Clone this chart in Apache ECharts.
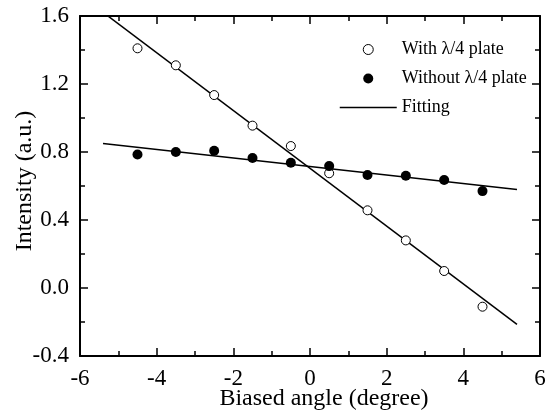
<!DOCTYPE html>
<html>
<head>
<meta charset="utf-8">
<script src="https://cdn.jsdelivr.net/npm/echarts@6/dist/echarts.min.js"></script>
<style>html,body{margin:0;padding:0;background:#fff;}#c{width:547px;height:415px;}</style>
</head>
<body>
<div id="c"></div>
<script>
var angles = [-4.5, -3.5, -2.5, -1.5, -0.5, 0.5, 1.5, 2.5, 3.5, 4.5];
var withPlate = [1.41, 1.31, 1.135, 0.955, 0.835, 0.675, 0.457, 0.28, 0.10, -0.11];
var withoutPlate = [0.785, 0.80, 0.807, 0.765, 0.737, 0.717, 0.665, 0.66, 0.635, 0.57];
var fitX = [-5.4, 5.4];
var fitWith = [1.622, -0.214];
var fitWithout = [0.85, 0.579];
var xTicks = [-6, -4, -2, 0, 2, 4, 6];
var yTicks = [-0.4, 0.0, 0.4, 0.8, 1.2, 1.6];
var names = ['With \u03bb/4 plate', 'Without \u03bb/4 plate', 'Fitting'];

function zip(xs, ys) { return xs.map(function (x, i) { return [x, ys[i]]; }); }

var FONT = 'Liberation Serif';
var axisLineStyle = { color: '#000', width: 2 };
function xAx(pos, labels) {
  return {
    type: 'value', position: pos, min: xTicks[0], max: xTicks[xTicks.length - 1], interval: 2,
    axisLine: { show: true, onZero: false, lineStyle: axisLineStyle },
    axisTick: { show: true, inside: true, length: 8, lineStyle: { color: '#000', width: 1.5 } },
    minorTick: { show: true, splitNumber: 2, length: 5, lineStyle: { color: '#000', width: 1.5 } },
    splitLine: { show: false },
    axisLabel: { show: labels, color: '#000', fontFamily: FONT, fontSize: 23, margin: 11 },
    name: labels ? 'Biased angle (degree)' : '', nameLocation: 'middle', nameGap: 31,
    nameMoveOverlap: false,
    nameTextStyle: { color: '#000', fontFamily: FONT, fontSize: 24, padding: [0, 0, 0, 28] }
  };
}
function yAx(pos, labels) {
  return {
    type: 'value', position: pos, min: yTicks[0], max: yTicks[yTicks.length - 1], interval: 0.4,
    axisLine: { show: true, onZero: false, lineStyle: axisLineStyle },
    axisTick: { show: true, inside: true, length: 8, lineStyle: { color: '#000', width: 1.5 } },
    minorTick: { show: true, splitNumber: 2, length: 5, lineStyle: { color: '#000', width: 1.5 } },
    splitLine: { show: false },
    axisLabel: { show: labels, color: '#000', fontFamily: FONT, fontSize: 23, margin: 11,
      formatter: function (v) { return v.toFixed(1); } },
    name: labels ? 'Intensity (a.u.)' : '', nameLocation: 'middle', nameGap: 43,
    nameMoveOverlap: false,
    nameTextStyle: { color: '#000', fontFamily: FONT, fontSize: 24, padding: [0, 0, 0, 10] }
  };
}

var chart = echarts.init(document.getElementById('c'), null, { renderer: 'canvas' });
chart.setOption({
  animation: false,
  backgroundColor: '#fff',
  grid: { left: 80, top: 16, right: 7, bottom: 59, containLabel: false, outerBoundsMode: 'none' },
  xAxis: [xAx('bottom', true), xAx('top', false)],
  yAxis: [yAx('left', true), yAx('right', false)],
  legend: {
    data: [
      { name: names[0], icon: 'circle', itemStyle: { color: '#fff', borderColor: '#000', borderWidth: 1 } },
      { name: names[1], icon: 'circle', itemStyle: { color: '#000', borderWidth: 0 } },
      { name: names[2], itemStyle: { color: 'rgba(0,0,0,0)', borderWidth: 0 }, lineStyle: { color: '#000', width: 1.5 } }
    ],
    orient: 'vertical', left: 334, top: 35,
    itemWidth: 57, itemHeight: 10, itemGap: 10,
    textStyle: { color: '#000', fontFamily: FONT, fontSize: 18, lineHeight: 19 }
  },
  series: [
    { name: names[0], type: 'scatter', data: zip(angles, withPlate), symbol: 'circle', symbolSize: 9,
      itemStyle: { color: '#fff', borderColor: '#000', borderWidth: 1, opacity: 1 }, z: 3 },
    { name: names[1], type: 'scatter', data: zip(angles, withoutPlate), symbol: 'circle', symbolSize: 10,
      itemStyle: { color: '#000', opacity: 1 }, z: 3 },
    { name: names[2], type: 'line', data: zip(fitX, fitWith), symbol: 'none', clip: true,
      lineStyle: { color: '#000', width: 1.5 }, itemStyle: { color: '#000' } },
    { name: names[2], type: 'line', data: zip(fitX, fitWithout), symbol: 'none', clip: true,
      lineStyle: { color: '#000', width: 1.5 }, itemStyle: { color: '#000' } }
  ]
});
</script>
</body>
</html>
